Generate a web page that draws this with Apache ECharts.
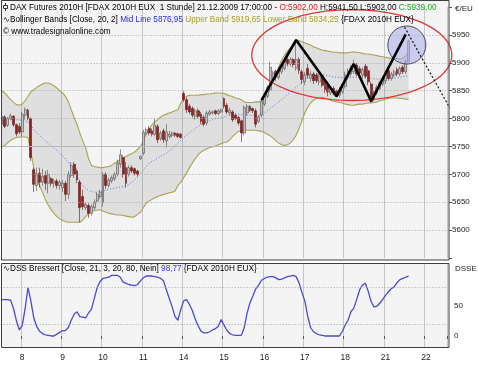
<!DOCTYPE html>
<html><head><meta charset="utf-8">
<script src="https://cdn.jsdelivr.net/npm/echarts@6.0.0/dist/echarts.min.js"></script>
<style>html,body{margin:0;padding:0;background:#fff;}#chart{width:478px;height:367px;}</style>
</head><body><div id="chart"></div>
<script>
// ---- axis structure (hourly bars per trading day) ----
const dayNames  = ['7','8','9','10','11','14','15','16','17','18','21','22'];
const firstHour = [15,8,8,8,8,8,8,8,8,8,8,8];
const lastHour  = [21,21,21,21,21,21,21,21,21,21,21,15];

// ---- FDAX hourly candles ----
const opens = [5790,5803,5788,5800,5804,5789,5786,
5776,5806,5815,5800,5708,5680,5702,5686,5698,5684,5692,5684,5688,5680,
5676,5684,5664,5698,5718,5706,5686,5660,5640,5644,5630,5640,5652,5660,
5650,5700,5680,5688,5692,5700,5718,5730,5712,5700,5712,5710,5706,5728,
5738,5774,5782,5778,5772,5786,5764,5778,5760,5768,5770,5774,5773,5772,
5845,5834,5822,5818,5804,5814,5808,5802,5792,5808,5810,5814,5809,5812,
5836,5824,5810,5812,5806,5802,5796,5774,5810,5822,5818,5814,5795,5806,
5826,5840,5852,5870,5885,5874,5884,5890,5906,5898,5906,5890,5906,5884,
5866,5890,5872,5880,5878,5866,5874,5866,5860,5846,5854,5850,5842,5848,
5858,5874,5880,5884,5896,5890,5878,5894,5886,5862,5836,5846,5854,5862,
5868,5886,5872,5878,5888,5880,5892,5884,5902];
const closes = [5804,5786,5800,5805,5789,5773,5776,
5808,5816,5800,5730,5682,5700,5686,5696,5684,5700,5684,5688,5680,5686,
5684,5664,5700,5716,5700,5690,5640,5642,5646,5630,5642,5650,5664,5668,
5700,5680,5690,5694,5700,5720,5735,5700,5684,5712,5706,5702,5700,5732,
5775,5780,5774,5772,5788,5762,5774,5762,5776,5772,5774,5770,5768,5766,
5834,5816,5812,5806,5814,5804,5795,5790,5810,5812,5812,5809,5814,5816,
5822,5812,5815,5798,5800,5792,5774,5820,5822,5815,5814,5790,5803,5830,
5840,5856,5892,5882,5874,5886,5896,5904,5898,5906,5897,5906,5886,5870,
5878,5878,5880,5868,5868,5876,5860,5852,5848,5852,5846,5842,5850,5856,
5878,5886,5890,5896,5880,5882,5888,5876,5866,5836,5848,5856,5864,5872,
5880,5872,5880,5884,5880,5890,5884,5902,5939];
const lows = [5786,5783,5785,5797,5785,5768,5772,
5768,5798,5797,5724,5668,5670,5676,5680,5672,5666,5678,5676,5674,5672,
5668,5652,5656,5694,5694,5684,5614,5636,5636,5622,5626,5636,5650,5656,
5642,5674,5676,5684,5688,5696,5712,5694,5676,5696,5702,5698,5696,5726,
5734,5770,5770,5768,5768,5756,5760,5756,5748,5764,5766,5767,5765,5764,
5830,5810,5808,5802,5798,5800,5790,5786,5788,5805,5807,5806,5806,5810,
5818,5808,5806,5794,5797,5788,5758,5770,5805,5812,5810,5784,5792,5802,
5822,5836,5848,5866,5868,5870,5880,5886,5894,5894,5892,5886,5880,5862,
5860,5872,5866,5862,5864,5860,5856,5846,5840,5842,5842,5838,5838,5844,
5854,5870,5876,5880,5876,5876,5872,5872,5860,5828,5832,5842,5850,5858,
5862,5868,5868,5874,5876,5876,5880,5880,5902];
const highs = [5808,5806,5803,5809,5806,5791,5792,
5812,5820,5818,5802,5712,5712,5712,5710,5706,5708,5695,5692,5692,5690,
5690,5688,5706,5722,5722,5710,5690,5672,5650,5648,5646,5655,5668,5672,
5704,5704,5694,5698,5704,5726,5745,5734,5722,5716,5716,5712,5708,5734,
5780,5784,5786,5782,5800,5790,5778,5782,5790,5778,5777,5776,5775,5774,
5849,5838,5826,5822,5818,5818,5812,5806,5814,5816,5815,5816,5817,5818,
5838,5828,5820,5815,5809,5805,5798,5824,5826,5824,5820,5818,5806,5834,
5844,5860,5902,5886,5888,5890,5900,5910,5910,5910,5909,5941,5910,5888,
5884,5898,5886,5884,5882,5880,5878,5872,5866,5856,5858,5852,5856,5860,
5884,5890,5896,5906,5900,5894,5892,5898,5894,5866,5852,5860,5868,5876,
5884,5890,5884,5888,5892,5894,5896,5906,5941.5];

// ---- Bollinger Bands (20, 2) ----
const upperBand = [5850,5846,5840,5834,5829,5825,5824,
5826,5832,5840,5848,5852,5856,5859,5862,5864,5864,5862,5859,5855,5850,
5846,5840,5830,5816,5802,5790,5774,5760,5748,5728,5716,5714,5713,5712,
5712,5713,5714,5716,5720,5723,5726,5729,5732,5735,5737,5740,5745,5750,
5760,5772,5782,5789,5794,5798,5803,5806,5808,5810,5812,5814,5816,5828,
5836,5840,5842,5842,5842,5842,5843,5843,5844,5844,5845,5846,5846,5846,
5845,5843,5841,5839,5837,5836,5834,5830,5829,5829,5829,5830,5830,5832,
5838,5846,5856,5868,5880,5893,5905,5914,5921,5927,5932,5938,5940,5938,
5936,5934,5932,5929,5927,5925,5923,5922,5921,5920,5919,5919,5918,5918,
5918,5918,5919,5920,5919,5918,5917,5916,5916,5915,5914,5913,5912,5911,
5910,5909,5908,5908,5908,5907,5908,5912,5920];
const lowerBand = [5749,5752,5757,5761,5764,5766,5767,
5767,5767,5766,5740,5712,5692,5680,5668,5655,5645,5637,5630,5624,5620,
5617,5615,5614,5614,5614,5614,5614,5618,5624,5630,5633,5635,5636,5636,
5634,5632,5630,5629,5628,5627,5627,5626,5625,5624,5623,5624,5628,5632,
5640,5648,5652,5655,5658,5660,5662,5664,5665,5667,5668,5670,5680,5686,
5694,5702,5712,5720,5728,5735,5740,5743,5746,5748,5749,5751,5753,5755,
5757,5758,5762,5768,5773,5777,5779,5779,5779,5779,5779,5779,5778,5777,
5775,5772,5769,5765,5760,5756,5753,5752,5753,5756,5762,5770,5782,5796,
5810,5820,5828,5833,5836,5837,5838,5837,5835,5833,5831,5830,5829,5828,
5826,5825,5824,5824,5825,5826,5826,5827,5828,5828,5829,5830,5832,5833,
5835,5836,5837,5837,5837,5836,5836,5835,5834.25];
const midLine = [5800,5800,5800,5799,5799,5798,5798,
5797,5796,5794,5788,5780,5775,5770,5765,5760,5756,5752,5747,5743,5738,
5733,5727,5722,5712,5705,5697,5688,5679,5675,5671,5669,5668,5668,5669,
5670,5672,5673,5674,5675,5676,5677,5678,5680,5682,5686,5690,5695,5702,
5708,5714,5720,5723,5726,5729,5732,5735,5738,5742,5746,5750,5756,5761,
5766,5770,5774,5778,5782,5786,5789,5792,5794,5796,5798,5800,5801,5802,
5803,5805,5806,5807,5808,5808,5807,5806,5806,5806,5806,5806,5806,5807,
5810,5814,5818,5822,5826,5830,5834,5838,5843,5848,5852,5856,5860,5865,
5870,5874,5877,5879,5880,5880,5879,5878,5877,5876,5875,5874,5874,5873,
5873,5873,5874,5874,5874,5874,5874,5874,5873,5872,5871,5871,5871,5872,
5872,5872,5872,5873,5873,5874,5875,5876,5876.95];

// ---- DSS Bressert (21, 3, 20, 80) ----
const dss = [60,60,60,59,45,25,10,
17,45,80,58,30,16,8,4,2,1,0,0,3,6,
9,9,14,26,36,40,32,31,30,38,44,62,80,90,
95,96,97,100,100,100,97,89,87,85,84,83,85,91,
96,99,99,99,98,97,95,91,76,62,48,32,26,44,
58,60,52,42,28,17,8,5,5,7,10,12,16,27,
18,9,4,2,1,1,1,14,38,55,66,78,84,92,
95,97,98,98,96,93,94,96,98,99,100,98,88,72,
58,33,14,7,4,2,1,0,0,0,0,0,0,7,
18,26,40,46,60,76,84,87,74,57,48,49,54,60,
67,73,78,81,88,93,95,97,98.77];

// ---- tick labels / reference levels ----
const priceTicks = [5600,5650,5700,5750,5800,5850,5900,5950];
const dssTicks = [0,50];
const dssLevels = [20,80];

// ---- drawn annotations (bar index, price) ----
const zigzag = [[90,5833],[102,5941],[116,5840],[122,5898],[128,5831],[140,5951]];
const ellipseAnno = {cx:121.3, cy:5914, rxBars:34.7, ryPrice:81.5};
const circleAnno = {cx:140.4, cy:5932, rBars:6.6};
const dashedAnno = [[139.6,5964],[155.3,5819]];

// ---- build categories ----
const categories = [];
dayNames.forEach((d, k) => { for (let h = firstHour[k]; h <= lastHour[k]; h++) categories.push(d + ' ' + h + ':00'); });
const isDayStart = (i, v) => typeof v === 'string' ? v.endsWith(' 8:00') : categories[i].endsWith(' 8:00');

const candleData = opens.map((o, i) => [o, closes[i], lows[i], highs[i]]);
const bandDiff = upperBand.map((u, i) => +(u - lowerBand[i]).toFixed(2));

const FONT = 'Liberation Sans, Arial, sans-serif';
const GL = 0.6, GW = 446.9;
const TXT = 8.2;

function richLine(x, y, parts, size) {
  const rich = {}; let text = '';
  parts.forEach((p, i) => {
    if (p[1] === null) { text += p[0]; return; }
    rich['s' + i] = {fill: p[1], fontSize: size, fontFamily: FONT};
    text += '{s' + i + '|' + p[0] + '}';
  });
  return {type: 'text', x: x, y: y, z: 60, silent: true,
    style: {text: text, rich: rich, fill: '#000', fontSize: size, fontFamily: FONT, verticalAlign: 'middle'}};
}

const chart = echarts.init(document.getElementById('chart'));
chart.setOption({
  animation: false,
  backgroundColor: '#ffffff',
  grid: [
    {left: GL, width: GW, top: 7.14, height: 250.76},
    {left: GL, width: GW, top: 263.3, height: 84.8}
  ],
  xAxis: [
    {type: 'category', gridIndex: 0, data: categories,
     axisLine: {show: false}, axisTick: {show: false}, axisLabel: {show: false},
     splitLine: {show: true, interval: isDayStart, lineStyle: {color: '#c6c6c6', width: 1}}},
    {type: 'category', gridIndex: 1, data: categories,
     axisLine: {show: false},
     axisTick: {show: true, interval: isDayStart, length: 3, lineStyle: {color: '#555'}},
     axisLabel: {show: true, interval: isDayStart, formatter: v => v.split(' ')[0],
       fontSize: 8.5, fontFamily: FONT, color: '#222', margin: 5},
     splitLine: {show: true, interval: isDayStart, lineStyle: {color: '#c6c6c6', width: 1}}}
  ],
  yAxis: [
    {type: 'value', gridIndex: 0, position: 'right', offset: 1.5, min: 5550, max: 6000, interval: 50,
     axisLine: {show: false},
     axisTick: {show: true, length: 3, lineStyle: {color: '#555'}},
     axisLabel: {fontSize: 8, fontFamily: FONT, color: '#222', margin: 3,
       formatter: v => priceTicks.indexOf(v) >= 0 ? String(v) : ''},
     splitLine: {show: false}},
    {type: 'value', gridIndex: 1, position: 'right', offset: 1.5, min: -20, max: 120, interval: 10,
     axisLine: {show: false}, axisTick: {show: false},
     axisLabel: {fontSize: 8, fontFamily: FONT, color: '#222', margin: 5,
       formatter: v => dssTicks.indexOf(v) >= 0 ? String(v) : ''},
     splitLine: {show: false}}
  ],
  series: [
    {name: 'lowerBase', type: 'line', xAxisIndex: 0, yAxisIndex: 0, stack: 'bb', data: lowerBand,
     symbol: 'none', lineStyle: {width: 0, opacity: 0}, silent: true, z: 1,
     markLine: {silent: true, symbol: 'none', label: {show: false}, animation: false,
       data: priceTicks.map(v => ({yAxis: v, lineStyle: {type: v === 5750 ? 'solid' : [1, 2],
         color: v === 5750 ? '#b8b8b8' : '#a8a8a8', width: 1}}))}},
    {name: 'bandFill', type: 'line', xAxisIndex: 0, yAxisIndex: 0, stack: 'bb', data: bandDiff,
     symbol: 'none', lineStyle: {width: 0, opacity: 0}, areaStyle: {color: 'rgba(120,120,120,0.24)'}, silent: true, z: 1},
    {name: 'Upper Band', type: 'line', xAxisIndex: 0, yAxisIndex: 0, data: upperBand, symbol: 'none',
     lineStyle: {color: '#aaa250', width: 1.1}, silent: true, z: 2},
    {name: 'Lower Band', type: 'line', xAxisIndex: 0, yAxisIndex: 0, data: lowerBand, symbol: 'none',
     lineStyle: {color: '#aaa250', width: 1.1}, silent: true, z: 2},
    {name: 'Mid Line', type: 'line', xAxisIndex: 0, yAxisIndex: 0, data: midLine, symbol: 'none',
     lineStyle: {color: '#6b6bd6', width: 1, type: [1, 2]}, silent: true, z: 2},
    {name: 'FDAX', type: 'candlestick', xAxisIndex: 0, yAxisIndex: 0, data: candleData,
     barWidth: 2.4, silent: true, z: 3,
     itemStyle: {color: '#c2c2c2', color0: '#962020', borderColor: '#505050', borderColor0: '#641414', borderWidth: 0.6}},
    {name: 'annotations', type: 'custom', xAxisIndex: 0, yAxisIndex: 0, data: [[0, 5900]], silent: true, z: 5, clip: false,
     renderItem: function (params, api) {
       const bw = api.size([1, 0])[0];
       const P = (i, p) => { const c = api.coord([0, p]); return [c[0] + i * bw, c[1]]; };
       const c = P(ellipseAnno.cx, ellipseAnno.cy);
       const rx = ellipseAnno.rxBars * bw;
       const ry = Math.abs(P(0, ellipseAnno.cy)[1] - P(0, ellipseAnno.cy + ellipseAnno.ryPrice)[1]);
       const pts = [];
       for (let k = 0; k <= 96; k++) { const a = k / 96 * Math.PI * 2; pts.push([c[0] + rx * Math.cos(a), c[1] + ry * Math.sin(a)]); }
       const cc = P(circleAnno.cx, circleAnno.cy);
       const d0 = P(dashedAnno[0][0], dashedAnno[0][1]);
       const d1 = P(dashedAnno[1][0], dashedAnno[1][1]);
       return {type: 'group', children: [
         {type: 'circle', shape: {cx: cc[0], cy: cc[1], r: circleAnno.rBars * bw},
          style: {fill: 'rgba(170,170,235,0.55)', stroke: '#4a4a5a', lineWidth: 1}},
         {type: 'polyline', shape: {points: pts}, style: {fill: 'none', stroke: '#d83a3a', lineWidth: 1.3}},
         {type: 'line', shape: {x1: d0[0], y1: d0[1], x2: d1[0], y2: d1[1]},
          style: {stroke: '#222', lineWidth: 1.3, lineDash: [2, 2]}}
       ]};
     }},
    {name: 'zigzag', type: 'line', xAxisIndex: 0, yAxisIndex: 0, data: zigzag, symbol: 'none', clip: false,
     lineStyle: {color: '#000', width: 2.6}, silent: true, z: 6},
    {name: 'DSS', type: 'line', xAxisIndex: 1, yAxisIndex: 1, data: dss, symbol: 'none',
     lineStyle: {color: '#4b4bcf', width: 1.3}, silent: true, z: 3,
     markLine: {silent: true, symbol: 'none', label: {show: false}, animation: false,
       data: dssLevels.map(v => ({yAxis: v, lineStyle: {type: [1, 2], color: '#a8a8a8', width: 1}}))}}
  ],
  graphic: [
    {type: 'rect', z: -5, silent: true, shape: {x: 2, y: 1, width: 447, height: 259}, style: {fill: '#f4f4f4'}},
    {type: 'rect', z: -5, silent: true, shape: {x: 2, y: 264, width: 447, height: 83}, style: {fill: '#f4f4f4'}},
    {type: 'rect', z: 50, silent: true, shape: {x: 1.5, y: 0.5, width: 447.5, height: 259.5}, style: {fill: 'none', stroke: '#3e3e3e', lineWidth: 1}},
    {type: 'rect', z: 50, silent: true, shape: {x: 1.5, y: 263.5, width: 447.5, height: 84}, style: {fill: 'none', stroke: '#3e3e3e', lineWidth: 1}},
    // small candle icon
    {type: 'line', z: 60, silent: true, shape: {x1: 5.5, y1: 3, x2: 5.5, y2: 11}, style: {stroke: '#333', lineWidth: 1}},
    {type: 'rect', z: 60, silent: true, shape: {x: 3.5, y: 5.5, width: 4, height: 3}, style: {fill: '#fff', stroke: '#333', lineWidth: 1}},
    richLine(10, 7.5, [
      ['DAX Futures 2010H [FDAX 2010H EUX  1 Stunde] 21.12.2009 17:00:00 - ', null],
      ['O:5902,00', '#e02020'],
      [' H:5941,50 L:5902,00 ', null],
      ['C:5939,00', '#22aa22']], TXT),
    richLine(3, 19.5, [
      ['\u223fBollinger Bands [Close, 20, 2] ', null],
      ['Mid Line 5876,95', '#2a2ad8'],
      [' Upper Band 5919,65 Lower Band 5834,25', '#a8a028'],
      [' {FDAX 2010H EUX}', null]], TXT),
    richLine(3, 31.5, [['\u00a9 www.tradesignalonline.com', null]], TXT),
    richLine(3, 268.5, [
      ['\u223fDSS Bressert [Close, 21, 3, 20, 80, Nein] ', null],
      ['98,77', '#3a3ad8'],
      [' {FDAX 2010H EUX}', null]], TXT),
    {type: 'text', x: 455, y: 9, z: 60, silent: true, style: {text: '\u20ac/EU', fill: '#222', fontSize: 8, fontFamily: FONT, verticalAlign: 'middle'}},
    {type: 'text', x: 455, y: 269, z: 60, silent: true, style: {text: 'DSSE', fill: '#222', fontSize: 8, fontFamily: FONT, verticalAlign: 'middle'}}
  ]
});
</script></body></html>
